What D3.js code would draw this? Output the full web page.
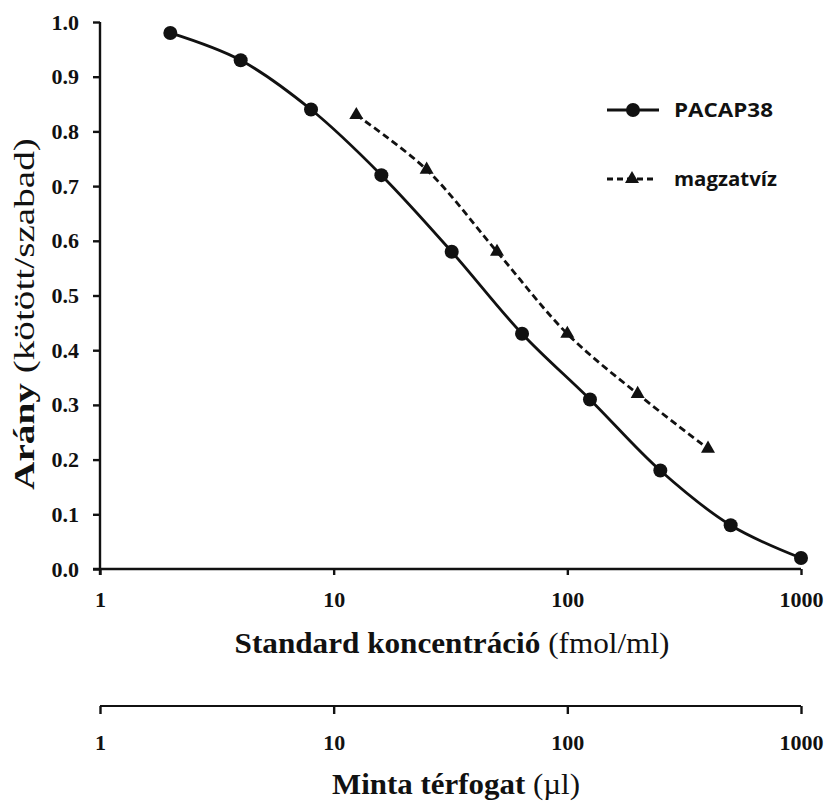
<!DOCTYPE html>
<html>
<head>
<meta charset="utf-8">
<script src="https://cdn.jsdelivr.net/npm/d3@7"></script>
<style>
body { margin: 0; background: #fff; }
</style>
</head>
<body>
<div id="chart"></div>
<script>
// data
const pacap_x = [2, 4, 8, 16, 32, 64, 125, 250, 500, 1000];
const pacap_y = [0.98, 0.93, 0.84, 0.72, 0.58, 0.43, 0.31, 0.18, 0.08, 0.02];
const magz_x = [12.5, 25, 50, 100, 200, 400];
const magz_y = [0.83, 0.73, 0.58, 0.43, 0.32, 0.22];
const x_ticks = [1, 10, 100, 1000];
const y_ticks = [0, 0.1, 0.2, 0.3, 0.4, 0.5, 0.6, 0.7, 0.8, 0.9, 1.0];

const width = 827;
const height = 802;
const margin = { top: 22, left: 100, right: 26 };
const plot_bottom = 569;
const axis2_y = 706;
const serif = "'Liberation Serif', 'Times New Roman', serif";
const ink = "#111";

const svg = d3.select("#chart").append("svg")
	.attr("width", width)
	.attr("height", height);

const x = d3.scaleLog().domain([1, 1000]).range([margin.left, width - margin.right]);
const y = d3.scaleLinear().domain([0, 1]).range([plot_bottom, margin.top]);

// y axis
const yAxis = svg.append("g")
	.attr("transform", `translate(${margin.left},0)`)
	.call(d3.axisLeft(y).tickValues(y_ticks).tickFormat(d3.format(".1f")).tickSize(7).tickPadding(14));

// x axis (main)
const xAxis = svg.append("g")
	.attr("transform", `translate(0,${plot_bottom})`)
	.call(d3.axisBottom(x).tickValues(x_ticks).tickFormat(d3.format("d")).tickSize(6).tickPadding(16));

// second x axis
const xAxis2 = svg.append("g")
	.attr("transform", `translate(0,${axis2_y})`)
	.call(d3.axisBottom(x).tickValues(x_ticks).tickFormat(d3.format("d")).tickSize(8).tickPadding(20));

svg.selectAll(".tick text")
	.style("font-family", serif)
	.style("font-weight", "bold")
	.style("font-size", "22px")
	.attr("fill", ink);
svg.selectAll(".domain, .tick line").attr("stroke", ink).attr("stroke-width", 2.4);
yAxis.select(".domain").attr("d", `M0,${y(1)}V${plot_bottom + 6}`);
xAxis.select(".domain").attr("d", `M${margin.left - 7},0H${x(1000)}`);
xAxis2.select(".domain").attr("d", `M${x(1)},0H${x(1000)}`).attr("stroke-width", 2);

// squeeze/stretch a title to the width it has in the figure
function fit(sel, w) {
	const len = sel.node().getComputedTextLength();
	return w / len;
}

function title(bold, normal, size) {
	const t = svg.append("text")
		.attr("text-anchor", "middle")
		.style("font-family", serif)
		.style("font-size", size + "px")
		.attr("fill", ink);
	t.append("tspan").style("font-weight", "bold").text(bold);
	t.append("tspan").style("font-weight", "normal").text(normal);
	return t;
}

const yTitle = title("Arány", " (kötött/szabad)", 30);
yTitle.attr("transform", `translate(34,314) rotate(-90) scale(${fit(yTitle, 352)},1)`);

const xTitle = title("Standard koncentráció", " (fmol/ml)", 30);
xTitle.attr("transform", `translate(452,653) scale(${fit(xTitle, 435)},1)`);

const xTitle2 = title("Minta térfogat", " (µl)", 29);
xTitle2.attr("transform", `translate(456,794) scale(${fit(xTitle2, 248)},1)`);

// lines
const line = d3.line()
	.x(d => x(d[0]))
	.y(d => y(d[1]))
	.curve(d3.curveCatmullRom.alpha(0.5));

const pacap = d3.zip(pacap_x, pacap_y);
const magz = d3.zip(magz_x, magz_y);

svg.append("path")
	.datum(pacap)
	.attr("d", line)
	.attr("fill", "none")
	.attr("stroke", ink)
	.attr("stroke-width", 2.8);

svg.append("path")
	.datum(magz)
	.attr("d", line)
	.attr("fill", "none")
	.attr("stroke", ink)
	.attr("stroke-width", 2.8)
	.attr("stroke-dasharray", "7,4");

svg.selectAll(".dot")
	.data(pacap)
	.join("circle")
	.attr("cx", d => x(d[0]))
	.attr("cy", d => y(d[1]))
	.attr("r", 7)
	.attr("fill", ink);

const tri = d3.symbol().type(d3.symbolTriangle).size(85);
svg.selectAll(".tri")
	.data(magz)
	.join("path")
	.attr("transform", d => `translate(${x(d[0])},${y(d[1])})`)
	.attr("d", tri)
	.attr("fill", ink);

// legend
const legend_font = "'Open Sans', 'Noto Sans', sans-serif";
const legend = svg.append("g").attr("transform", "translate(607,110)");
legend.append("line").attr("x1", 0).attr("x2", 52).attr("y1", 0).attr("y2", 0)
	.attr("stroke", ink).attr("stroke-width", 2.8);
legend.append("circle").attr("cx", 26).attr("cy", 0).attr("r", 7).attr("fill", ink);
const lt1 = legend.append("text").attr("y", 7).text("PACAP38")
	.style("font-family", legend_font).style("font-weight", "bold").style("font-size", "20px").attr("fill", ink);
lt1.attr("transform", `translate(67,0) scale(${fit(lt1, 99)},1)`);

const legend2 = svg.append("g").attr("transform", "translate(607,179)");
legend2.append("line").attr("x1", 0).attr("x2", 49).attr("y1", 0).attr("y2", 0)
	.attr("stroke", ink).attr("stroke-width", 2.8).attr("stroke-dasharray", "6,4");
legend2.append("path").attr("transform", "translate(25,0)").attr("d", tri).attr("fill", ink);
const lt2 = legend2.append("text").attr("y", 7).text("magzatvíz")
	.style("font-family", legend_font).style("font-weight", "bold").style("font-size", "20px").attr("fill", ink);
lt2.attr("transform", `translate(67,0) scale(${fit(lt2, 103)},1)`);
</script>
</body>
</html>
